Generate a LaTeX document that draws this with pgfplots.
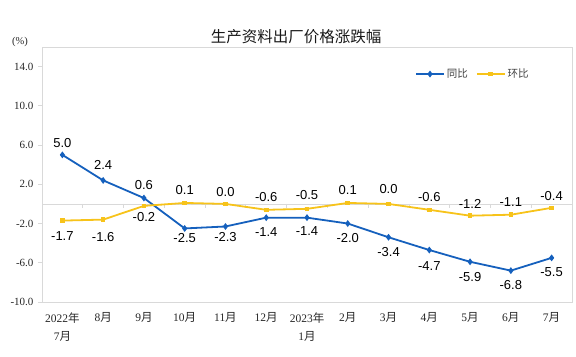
\documentclass[border=0pt]{standalone}
\usepackage{pgfplots}
\usepackage{pgfplotstable}
\pgfplotsset{compat=1.18}
\usepackage{fontspec}
\setmainfont{Liberation Serif}
\newfontfamily\cjk{Noto Sans CJK SC}
\newfontfamily\arial{Liberation Sans}
\definecolor{tongbi}{HTML}{1560BD}
\definecolor{huanbi}{HTML}{F7C31A}
\definecolor{framegray}{HTML}{D9D9D9}

\pgfplotstableread{
x tb dtb hb dhb
0 5.0 11.4 -1.7 -15
1 2.4 15 -1.6 -17
2 0.6 12.6 -0.2 -11.5
3 -2.5 -10 0.1 12.5
4 -2.3 -11 0.0 11.5
5 -1.4 -14.7 -0.6 12.5
6 -1.4 -13.5 -0.5 14
7 -2.0 -14 0.1 12.5
8 -3.4 -15 0.0 14.5
9 -4.7 -16 -0.6 12.4
10 -5.9 -15.5 -1.2 12
11 -6.8 -14 -1.1 13
12 -5.5 -14.7 -0.4 11.4
}\data

\begin{document}
\begin{tikzpicture}
\useasboundingbox (0,0) rectangle (576bp,357bp);
\begin{axis}[
  at={(42bp,55bp)}, anchor=south west,
  scale only axis, width=530bp, height=255bp,
  xmin=-0.5, xmax=12.5, ymin=-10, ymax=16,
  axis line style={framegray, line width=0.8bp},
  ytick={-10,-6,...,14},
  ytick pos=left,
  y tick style={framegray, line width=0.8bp},
  tick align=outside,
  major tick length=4bp,
  yticklabel style={/pgf/number format/fixed, /pgf/number format/fixed zerofill, /pgf/number format/precision=1, /pgf/number format/assume math mode=true, font=\fontsize{11bp}{12bp}\selectfont, text=black!85, xshift=-1bp},
  xtick={0,...,12},
  x tick style={draw=none},
  xticklabels={{2022{\cjk 年}\\7{\cjk 月}},8{\cjk 月},9{\cjk 月},10{\cjk 月},11{\cjk 月},12{\cjk 月},{2023{\cjk 年}\\1{\cjk 月}},2{\cjk 月},3{\cjk 月},4{\cjk 月},5{\cjk 月},6{\cjk 月},7{\cjk 月}},
  xticklabel style={font=\fontsize{11.5bp}{18bp}\selectfont, align=center, anchor=north, text=black!85, yshift=-3bp},
  extra y ticks={0},
  extra y tick labels={},
  extra y tick style={grid=major, major grid style={framegray, line width=0.8bp}, major tick length=0pt},
  legend style={at={(0.813,0.894)}, anchor=center, draw=none, fill=none, legend columns=2,
    font=\cjk\fontsize{10.5bp}{12bp}\selectfont, text=black!75,
    /tikz/every even column/.append style={column sep=6bp}},
  legend image code/.code={\draw[mark repeat=2, mark phase=2] plot coordinates {(0bp,0bp)(14bp,0bp)(28bp,0bp)};},
  nodes near coords={\pgfmathprintnumber[fixed,fixed zerofill,precision=1,assume math mode=true]{\pgfplotspointmeta}},
  point meta=y,
]
\pgfplotsinvokeforeach{0.5,1.5,...,11.5}{\draw[framegray, line width=0.8bp] (axis cs:#1,0) -- ++(0pt,-4bp);}
\addplot[tongbi, line width=1.8bp, mark=diamond*, mark size=2bp,
  visualization depends on={\thisrow{dtb} \as \dy},
  every node near coord/.append style={anchor=center, yshift=\dy bp, font=\arial\fontsize{13bp}{14bp}\selectfont, text=black}]
  table[x=x, y=tb] {\data};
\addlegendentry{同比}
\addplot[huanbi, line width=1.8bp, mark=square*, mark size=1.4bp,
  visualization depends on={\thisrow{dhb} \as \dy},
  every node near coord/.append style={anchor=center, yshift=\dy bp, font=\arial\fontsize{13bp}{14bp}\selectfont, text=black}]
  table[x=x, y=hb] {\data};
\addlegendentry{环比}
\end{axis}
\node[font=\cjk\fontsize{15.5bp}{18bp}\selectfont, text=black!90] at (296bp,320bp) {生产资料出厂价格涨跌幅};
\node[font=\fontsize{10.5bp}{12bp}\selectfont, text=black!85] at (20bp,315bp) {(\%)};
\end{tikzpicture}
\end{document}
